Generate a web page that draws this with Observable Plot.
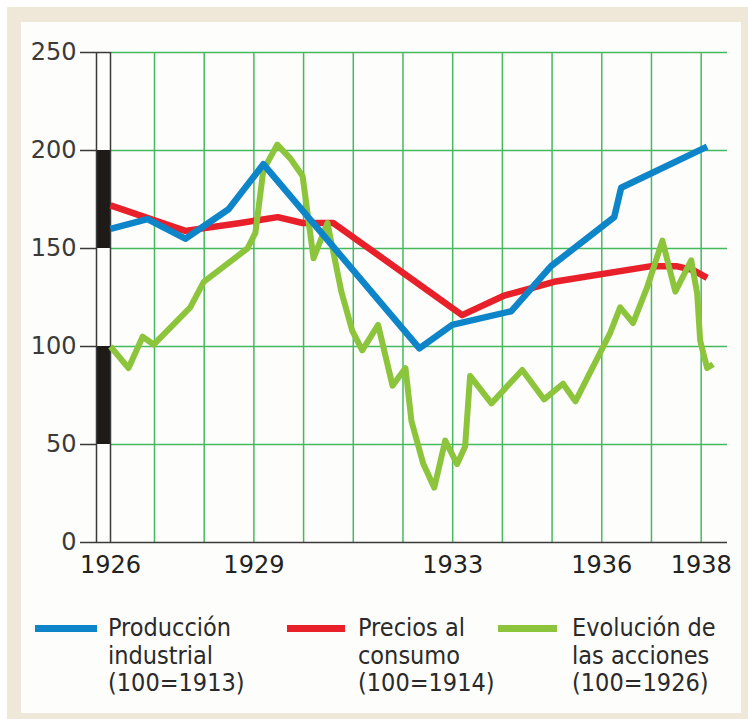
<!DOCTYPE html>
<html><head><meta charset="utf-8">
<script src="https://cdn.jsdelivr.net/npm/d3@7"></script>
<script src="https://cdn.jsdelivr.net/npm/@observablehq/plot@0.6"></script>
<style>
body{margin:0;width:748px;height:719px;position:relative;background:#fff;overflow:hidden;font-family:"DejaVu Sans",sans-serif;}
#frame{position:absolute;left:7px;top:7px;width:741px;height:712px;background:#efe8d8;}
#panel{position:absolute;left:21px;top:22px;width:720px;height:691px;background:#fdfdfb;}
#chart{position:absolute;left:0;top:0;}
.sw{position:absolute;height:7px;}
.lt{position:absolute;font-family:"DejaVu Sans Condensed","DejaVu Sans",sans-serif;font-stretch:condensed;font-size:25px;line-height:27.5px;color:#2a2a2a;white-space:nowrap;}
</style></head>
<body>
<div id="frame"></div><div id="panel"></div>
<div id="chart"></div>
<div id="legend"></div>
<script>
// ---- data ----
const prodYears  = [1926.00,1926.84,1927.62,1928.49,1929.19,1932.33,1932.99,1934.18,1934.98,1936.25,1936.39,1938.12];
const prodValues = [160,165,155,170,193,99,111,118,141,166,181,202];

const priceYears  = [1926.00,1927.62,1928.73,1929.48,1929.98,1930.60,1933.19,1934.04,1935.04,1937.00,1937.50,1937.84,1938.12];
const priceValues = [172,159,163,166,163,163,116,126,133,141,141,139,135];

const stockYears  = [1926.00,1926.41,1926.73,1926.98,1927.72,1927.99,1928.87,1929.03,1929.19,1929.47,1929.73,1929.98,1930.20,1930.48,1930.76,1930.98,1931.18,1931.50,1931.79,1932.05,1932.17,1932.41,1932.63,1932.85,1933.09,1933.25,1933.35,1933.78,1934.40,1934.84,1935.22,1935.47,1936.17,1936.37,1936.63,1936.91,1937.22,1937.48,1937.80,1937.92,1937.98,1938.12,1938.24];
const stockValues = [100,89,105,101,120,133,150,158,190,203,196,187,145,163,128,108,98,111,80,89,62,40,28,52,40,49,85,71,88,73,81,72,107,120,112,130,154,128,144,127,103,89,91];

const xTickLabels = [1926,1929,1933,1936,1938];
const gridYears = [1927,1928,1929,1930,1931,1932,1933,1934,1935,1936,1937,1938];
const yTicks = [0,50,100,150,200,250];
const barBands = [
  {lo:0,hi:50,fill:"#fdfdfb"},{lo:50,hi:100,fill:"#1e1a17"},{lo:100,hi:150,fill:"#fdfdfb"},
  {lo:150,hi:200,fill:"#1e1a17"},{lo:200,hi:250,fill:"#fdfdfb"}];

const seriesNames = ["Producción industrial (100=1913)","Precios al consumo (100=1914)","Evolución de las acciones (100=1926)"];
const seriesColors = ["#0f85c9","#e8202a","#8cc43c"];
const legendLines = [["Producción","industrial","(100=1913)"],["Precios al","consumo","(100=1914)"],["Evolución de","las acciones","(100=1926)"]];

// ---- build ----
const toRows = (xs, ys) => xs.map((x,i)=>({year:x,value:ys[i]}));
const prod = toRows(prodYears, prodValues);
const price = toRows(priceYears, priceValues);
const stock = toRows(stockYears, stockValues);

const barLeft = 1925.68, xStart = 1926, xEnd = 1938.53;
const grid = "#46b95e", axisCol = "#3a3a3a";

const chart = Plot.plot({
  width: 748, height: 590,
  marginLeft: 96, marginTop: 52, marginBottom: 48, marginRight: 21,
  x: {type:"linear", domain:[barLeft, xStart, 1927, xEnd], range:[96,110,154,727], axis:null},
  y: {domain:[0,250], axis:null},
  style: {background:"transparent", overflow:"visible", fontFamily:"DejaVu Sans, sans-serif"},
  marks: [
    Plot.ruleY(yTicks.filter(v=>v>0), {x1:xStart, x2:xEnd, stroke:grid, strokeWidth:1.5}),
    Plot.ruleX(gridYears, {y1:0, y2:250, stroke:grid, strokeWidth:1.5}),
    Plot.rect(barBands, {x1:barLeft, x2:xStart, y1:"lo", y2:"hi", fill:"fill"}),
    Plot.ruleX([barLeft, xStart], {y1:0, y2:250, stroke:axisCol, strokeWidth:1.5}),
    Plot.ruleY([250], {x1:barLeft, x2:xStart, stroke:axisCol, strokeWidth:1.5}),
    Plot.ruleY([0], {x1:barLeft, x2:xEnd, stroke:axisCol, strokeWidth:1.5}),
    Plot.axisY(yTicks, {anchor:"left", tickSize:16, tickPadding:4, fontSize:24, stroke:axisCol, strokeWidth:1.5, fill:axisCol, tickFormat:d=>String(d)}),
    Plot.text(xTickLabels, {x:d=>d, y:0, dy:23, fontSize:24, fill:"#222", text:d=>String(d), lineAnchor:"middle"}),
    Plot.line(price, {x:"year", y:"value", stroke:seriesColors[1], strokeWidth:6.5, strokeLinecap:"butt", strokeLinejoin:"round"}),
    Plot.line(stock, {x:"year", y:"value", stroke:seriesColors[2], strokeWidth:6, strokeLinecap:"butt", strokeLinejoin:"round"}),
    Plot.line(prod, {x:"year", y:"value", stroke:seriesColors[0], strokeWidth:6.5, strokeLinecap:"butt", strokeLinejoin:"round"})
  ]
});
document.getElementById("chart").appendChild(chart);

const legendPos = [{sx:35,ex:97,tx:108},{sx:287,ex:345,tx:358},{sx:498,ex:557,tx:572}];
const leg = d3.select("#legend");
legendPos.forEach((p,i)=>{
  leg.append("div").attr("class","sw").attr("title",seriesNames[i])
    .style("left",p.sx+"px").style("top","625px").style("width",(p.ex-p.sx)+"px").style("background",seriesColors[i]);
  leg.append("div").attr("class","lt").style("left",p.tx+"px").style("top","614px")
    .html(legendLines[i].join("<br>"));
});
</script>
</body></html>
